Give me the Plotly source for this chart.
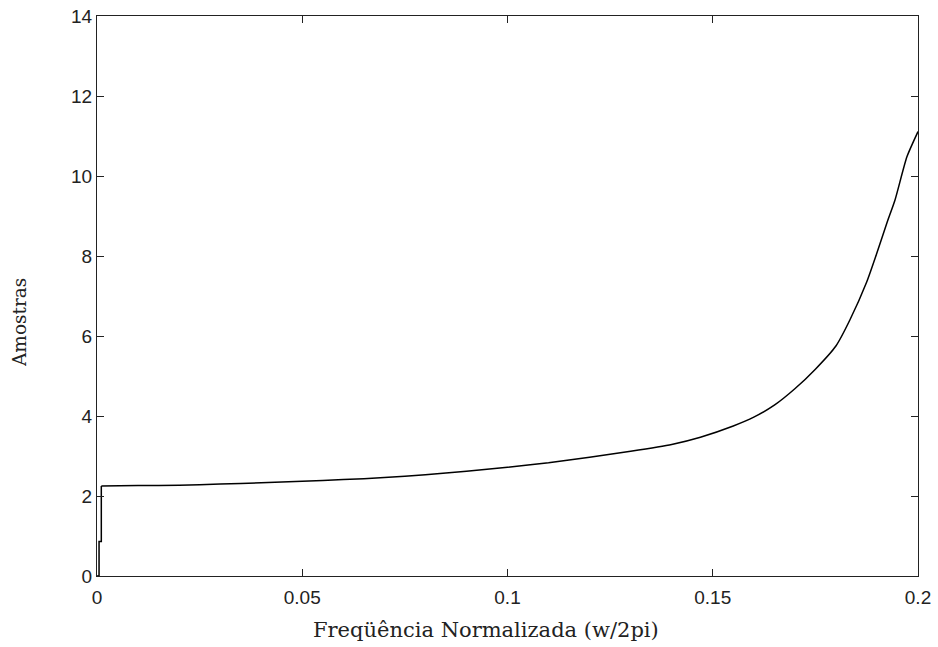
import plotly.graph_objects as go

freq = [0.0, 0.0005, 0.0005, 0.00105, 0.00105, 0.01, 0.02, 0.03, 0.04, 0.05, 0.06, 0.07, 0.08,
        0.09, 0.10, 0.11, 0.12, 0.13, 0.14, 0.147, 0.155, 0.16, 0.165, 0.17,
        0.175, 0.18, 0.1834, 0.1875, 0.1899, 0.1924, 0.1944, 0.1973, 0.2]
amostras = [0.0, 0.0, 0.86, 0.86, 2.25, 2.26, 2.27, 2.30, 2.33, 2.37, 2.41, 2.46, 2.53,
            2.62, 2.72, 2.83, 2.97, 3.12, 3.29, 3.47, 3.75, 3.97, 4.27, 4.68,
            5.17, 5.75, 6.40, 7.35, 8.05, 8.82, 9.40, 10.48, 11.11]

x_ticks = [0, 0.05, 0.1, 0.15, 0.2]
x_tick_labels = ["0", "0.05", "0.1", "0.15", "0.2"]
y_ticks = [0, 2, 4, 6, 8, 10, 12, 14]
y_tick_labels = ["0", "2", "4", "6", "8", "10", "12", "14"]

STEP_END = 5  # the initial step segment is drawn with straight lines

fig = go.Figure()
fig.add_trace(go.Scatter(x=freq[:STEP_END], y=amostras[:STEP_END], mode="lines",
                         line=dict(color="black", width=1.5), showlegend=False))
fig.add_trace(go.Scatter(x=freq[STEP_END - 1:], y=amostras[STEP_END - 1:], mode="lines",
                         line=dict(color="black", width=1.5, shape="spline", smoothing=0.6),
                         showlegend=False))

axis_common = dict(showline=True, linecolor="#222", linewidth=1, mirror="ticks",
                   ticks="inside", ticklen=7, tickcolor="#222", tickwidth=1,
                   showgrid=False, zeroline=False, automargin=False,
                   tickfont=dict(family="Liberation Sans, Arial", size=19, color="#222"))

fig.update_xaxes(range=[0, 0.2], tickvals=x_ticks, ticktext=x_tick_labels,
                 ticklabelstandoff=4, **axis_common)
fig.update_yaxes(range=[0, 14], tickvals=y_ticks, ticktext=y_tick_labels, **axis_common)

W, H = 938, 647
L, R, T, B = 97, 20, 16, 71
pw, ph = W - L - R, H - T - B

def px_to_paper(px, py):
    return (px - L) / pw, (H - B - py) / ph

tx, ty = px_to_paper(486, 630)
fig.add_annotation(text="Freqüência Normalizada (w/2pi)", x=tx, y=ty, xref="paper", yref="paper",
                   xanchor="center", yanchor="middle", showarrow=False,
                   font=dict(family="DejaVu Serif", size=21, color="#222"))
ax_, ay_ = px_to_paper(19, 323)
fig.add_annotation(text="Amostras", textangle=-90, x=ax_, y=ay_, xref="paper", yref="paper",
                   xanchor="center", yanchor="middle", showarrow=False,
                   font=dict(family="DejaVu Serif", size=18.5, color="#222"))

fig.update_layout(width=W, height=H, margin=dict(l=L, r=R, t=T, b=B),
                  plot_bgcolor="white", paper_bgcolor="white")

fig.write_html("out.html")
